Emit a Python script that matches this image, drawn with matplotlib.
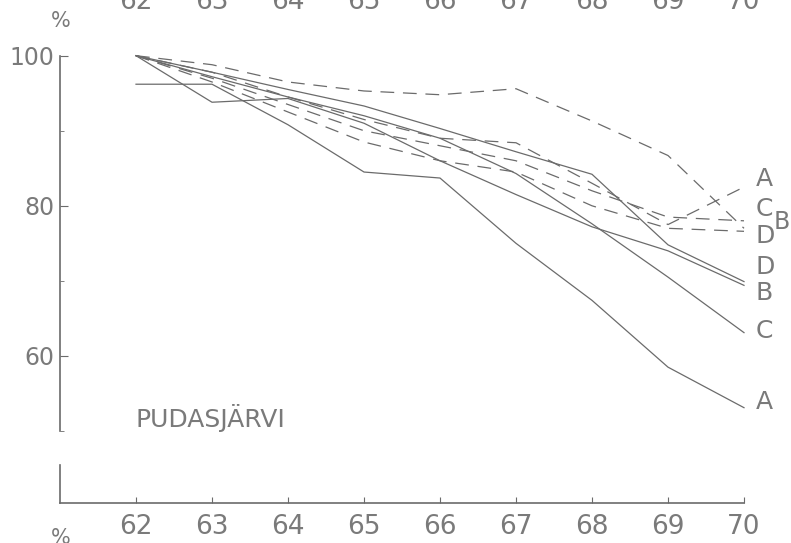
import matplotlib
matplotlib.use("Agg")
import matplotlib.pyplot as plt
import matplotlib.transforms as mtransforms

# vuodet 1962-1970 (akselilla vain kaksi viimeistä numeroa)
years = [62, 63, 64, 65, 66, 67, 68, 69, 70]

# yhtenäiset viivat
solid_A = [96.2, 96.2, 90.8, 84.5, 83.7, 75.0, 67.4, 58.5, 53.1]
solid_B = [100, 93.8, 94.3, 91.0, 86.0, 81.5, 77.2, 74.0, 69.4]
solid_C = [100, 97.2, 94.5, 92.0, 89.0, 84.3, 77.6, 70.5, 63.1]
solid_D = [100, 97.8, 95.5, 93.3, 90.3, 87.2, 84.2, 74.8, 69.9]

# katkoviivat
dashed_A = [100, 97.8, 94.5, 91.5, 89.0, 88.4, 83.0, 77.5, 82.5]
dashed_B = [100, 98.8, 96.5, 95.3, 94.8, 95.6, 91.3, 86.7, 77.0]
dashed_C = [100, 97.0, 93.5, 90.0, 88.0, 86.0, 82.0, 78.5, 78.0]
dashed_D = [100, 96.5, 92.5, 88.5, 86.0, 84.5, 80.0, 77.0, 76.6]

# tunnukset oikealla reunalla (teksti, y-kohta)
end_labels = ["A", "C", "B", "D", "D", "B", "C", "A"]
end_label_y = [83.6, 79.6, 77.9, 76.0, 71.8, 68.4, 63.3, 53.8]

y_ticks = [60, 80, 100]
y_minor = [50, 70, 90]
place = "PUDASJÄRVI"

ink = "#6b6b6b"
txt = "#7a7a7a"
plt.rcParams["font.family"] = ["DejaVu Sans"]

fig = plt.figure(figsize=(7.91, 5.43), dpi=100)
ax = fig.add_axes([60 / 791, 40 / 543, 684 / 791, 447.3 / 543])

for vals in (solid_A, solid_B, solid_C, solid_D):
    ax.plot(years, vals, color=ink, lw=0.9, clip_on=False)
for vals in (dashed_A, dashed_B, dashed_C, dashed_D):
    ax.plot(years, vals, color=ink, lw=0.9, ls=(0, (11, 7)), clip_on=False)

for lab, yv in zip(end_labels, end_label_y):
    if lab == "B" and yv > 75:
        # alaindeksimäinen B katkoviivojen kohdalla
        ax.text(70.5, yv, lab, color=txt, fontsize=17, ha="center", va="center")
    else:
        ax.text(70.15, yv, lab, color=txt, fontsize=18, ha="left", va="center")

ax.text(62.0, 51.7, place, color=txt, fontsize=18, ha="left", va="center")

ax.set_xlim(61, 70)
ax.set_ylim(40.4, 100)

ax.spines["top"].set_visible(False)
ax.spines["right"].set_visible(False)
ax.spines["left"].set_bounds(50, 100)
ax.spines["left"].set_color(ink)
ax.spines["bottom"].set_color(ink)
ax.spines["left"].set_linewidth(1.2)
ax.spines["bottom"].set_linewidth(1.2)
# katkaistun y-akselin alaosa
ax.plot([61, 61], [40.4, 45.4], color=ink, lw=1.2, clip_on=False)

ax.set_xticks(years)
ax.set_xticklabels([str(y) for y in years])
ax.set_yticks(y_ticks)
ax.set_yticks(y_minor, minor=True)
ax.tick_params(axis="x", direction="in", length=4, color=ink, labelcolor=txt,
               labelsize=19, pad=8)
ax.tick_params(axis="y", which="major", direction="in", length=6, color=ink,
               labelcolor=txt, labelsize=17, pad=4)
ax.tick_params(axis="y", which="minor", direction="in", length=3, color=ink)

# edellisen kuvan akselin numerot näkyvät osittain yläreunassa
top = mtransforms.blended_transform_factory(ax.transData, fig.transFigure)
for y in years:
    ax.text(y, 1 - 9 / 543, str(y), transform=top, color=txt, fontsize=19,
            ha="center", va="baseline", clip_on=False)

fig.text(61 / 791, 1 - 21 / 543, "%", color=txt, fontsize=15, ha="center", va="center")
fig.text(61 / 791, 15 / 543, "%", color=txt, fontsize=15, ha="center", va="top")

fig.savefig("out.png", dpi=100, facecolor="white")
